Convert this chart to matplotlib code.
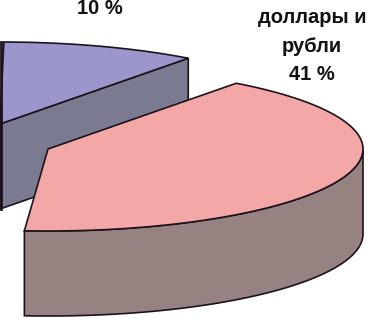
import matplotlib
matplotlib.use("Agg")
import matplotlib.pyplot as plt
import numpy as np
from matplotlib.patches import Polygon

plt.rcParams["font.family"] = ["Liberation Sans", "DejaVu Sans"]

# slice data (only the visible part of the pie)
names = ["", "доллары и\nрубли"]
shares = [10, 41]
top_colors = ["#9b97cc", "#f4a7a7"]
side_colors = ["#7a7a91", "#978282"]

# pie geometry, in pixels
rx, ry, depth = 315, 82, 85
split_angle = 53.3  # boundary between the two slices
centers = [(0, 124), (48, 149)]
edge = "#1c121c"

fig = plt.figure(figsize=(3.68, 3.18), dpi=100)
ax = fig.add_axes([0, 0, 1, 1])
ax.set_xlim(0, 368)
ax.set_ylim(318, 0)
ax.axis("off")


def rim(c, t, dz=0):
    t = np.radians(t)
    return np.column_stack([c[0] + rx * np.cos(t), c[1] - ry * np.sin(t) + dz])


# angular ranges: blue goes counterclockwise, pink clockwise from the split
spans = [
    (split_angle, split_angle + shares[0] * 3.6),
    (split_angle - shares[1] * 3.6, split_angle),
]

# blue slice: cut face along the split radius, then top
c = centers[0]
p = rim(c, split_angle)[0]
face = [c, p, (p[0], p[1] + depth), (c[0], c[1] + depth)]
ax.add_patch(Polygon(face, closed=True, fc=side_colors[0], ec=edge, lw=1.2))
t = np.linspace(spans[0][0], spans[0][1], 60)
top = np.vstack([[c], rim(c, t)])
ax.add_patch(Polygon(top, closed=True, fc=top_colors[0], ec=edge, lw=1.2))
ax.plot([c[0] + 1, c[0] + 1], [c[1] - ry, c[1] + depth], color=edge, lw=2)

# pink slice: outer wall (front half), then top
c = centers[1]
t = np.linspace(spans[1][0], 0, 80)
wall = np.vstack([rim(c, t), rim(c, t[::-1], depth)])
ax.add_patch(Polygon(wall, closed=True, fc=side_colors[1], ec=edge, lw=1.2))
t = np.linspace(spans[1][0], spans[1][1], 120)
top = np.vstack([[c], rim(c, t)])
ax.add_patch(Polygon(top, closed=True, fc=top_colors[1], ec=edge, lw=1.2))

# labels
ax.text(100, 14, f"{shares[0]} %", ha="center", va="baseline",
        fontsize=14.5, fontweight="bold", color="#111111")
ax.text(312, 46, f"{names[1]}\n{shares[1]} %", ha="center", va="center",
        fontsize=14.5, fontweight="bold", color="#111111", linespacing=1.62)

fig.savefig("out.png", dpi=100)
